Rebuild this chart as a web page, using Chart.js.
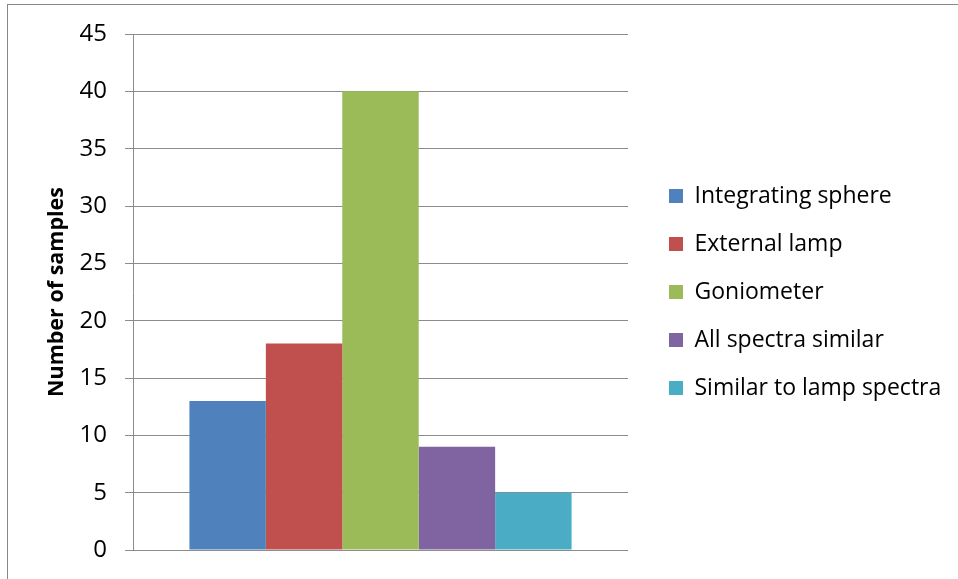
<!DOCTYPE html>
<html>
<head>
<meta charset="utf-8">
<script src="https://cdn.jsdelivr.net/npm/chart.js@4.4.1/dist/chart.umd.min.js"></script>
<style>
  html, body { margin: 0; padding: 0; background: #fff; }
  #wrap { position: relative; width: 958px; height: 579px; overflow: hidden; }
  #frame {
    position: absolute; left: 7px; top: 4px; width: 1200px; height: 900px;
    border-left: 1px solid #888; border-top: 1px solid #888; pointer-events: none;
  }
</style>
</head>
<body>
<div id="wrap">
  <canvas id="samples" width="958" height="579"></canvas>
  <div id="frame"></div>
</div>
<script>
  // one category, five measurement groups
  const categories = [''];
  const seriesNames = ['Integrating sphere', 'External lamp', 'Goniometer', 'All spectra similar', 'Similar to lamp spectra'];
  const seriesValues = [13, 18, 40, 9, 5];
  const yTicks = [0, 5, 10, 15, 20, 25, 30, 35, 40, 45];
  const yTitle = 'Number of samples';

  const seriesColors = ['#4F81BD', '#C0504D', '#9BBB59', '#8064A2', '#4BACC6'];
  const gridColor = '#8c8c8c';

  Chart.defaults.font.family = "'Open Sans', sans-serif";
  Chart.defaults.color = '#000';

  // legend gets a fixed width so the plot keeps its right edge
  const legendWidth = {
    id: 'legendWidth',
    beforeInit(chart) {
      const fit = chart.legend.fit;
      chart.legend.fit = function () {
        fit.call(this);
        this.width = 314;
      };
    }
  };

  new Chart(document.getElementById('samples'), {
    type: 'bar',
    data: {
      labels: categories,
      datasets: seriesNames.map((name, i) => ({
        label: name,
        data: [seriesValues[i]],
        backgroundColor: seriesColors[i],
        borderWidth: 0,
        barPercentage: 1,
        categoryPercentage: 0.772
      }))
    },
    options: {
      responsive: false,
      animation: false,
      layout: {
        padding: { top: 34, bottom: 29, left: 0, right: 0 }
      },
      plugins: {
        tooltip: { enabled: false },
        legend: {
          position: 'right',
          align: 'center',
          labels: {
            boxWidth: 14,
            boxHeight: 14,
            padding: 25,
            font: { size: 23 }
          }
        }
      },
      scales: {
        x: {
          display: false
        },
        y: {
          min: yTicks[0],
          max: yTicks[yTicks.length - 1],
          afterFit(scale) {
            scale.width = 133;
            // tick padding is horizontal only here, keep it out of the vertical margins
            scale.paddingTop = 15;
            scale.paddingBottom = 15;
          },
          afterBuildTicks(scale) { scale.ticks = yTicks.map(v => ({ value: v })); },
          ticks: {
            padding: 18,
            font: { size: 24 }
          },
          grid: {
            color: gridColor,
            lineWidth: 1,
            tickLength: 8,
            tickColor: gridColor
          },
          border: { color: gridColor, width: 1 },
          title: {
            display: true,
            text: yTitle,
            padding: { top: 44, bottom: 0 },
            font: { size: 21.5, weight: 'bold' }
          }
        },
        // empty axis used as a gap between the plot and the legend
        gap: {
          type: 'linear',
          position: 'right',
          afterFit(scale) { scale.width = 16; },
          ticks: { display: false },
          grid: { display: false, drawTicks: false },
          border: { display: false }
        }
      }
    },
    plugins: [legendWidth]
  });
</script>
</body>
</html>
